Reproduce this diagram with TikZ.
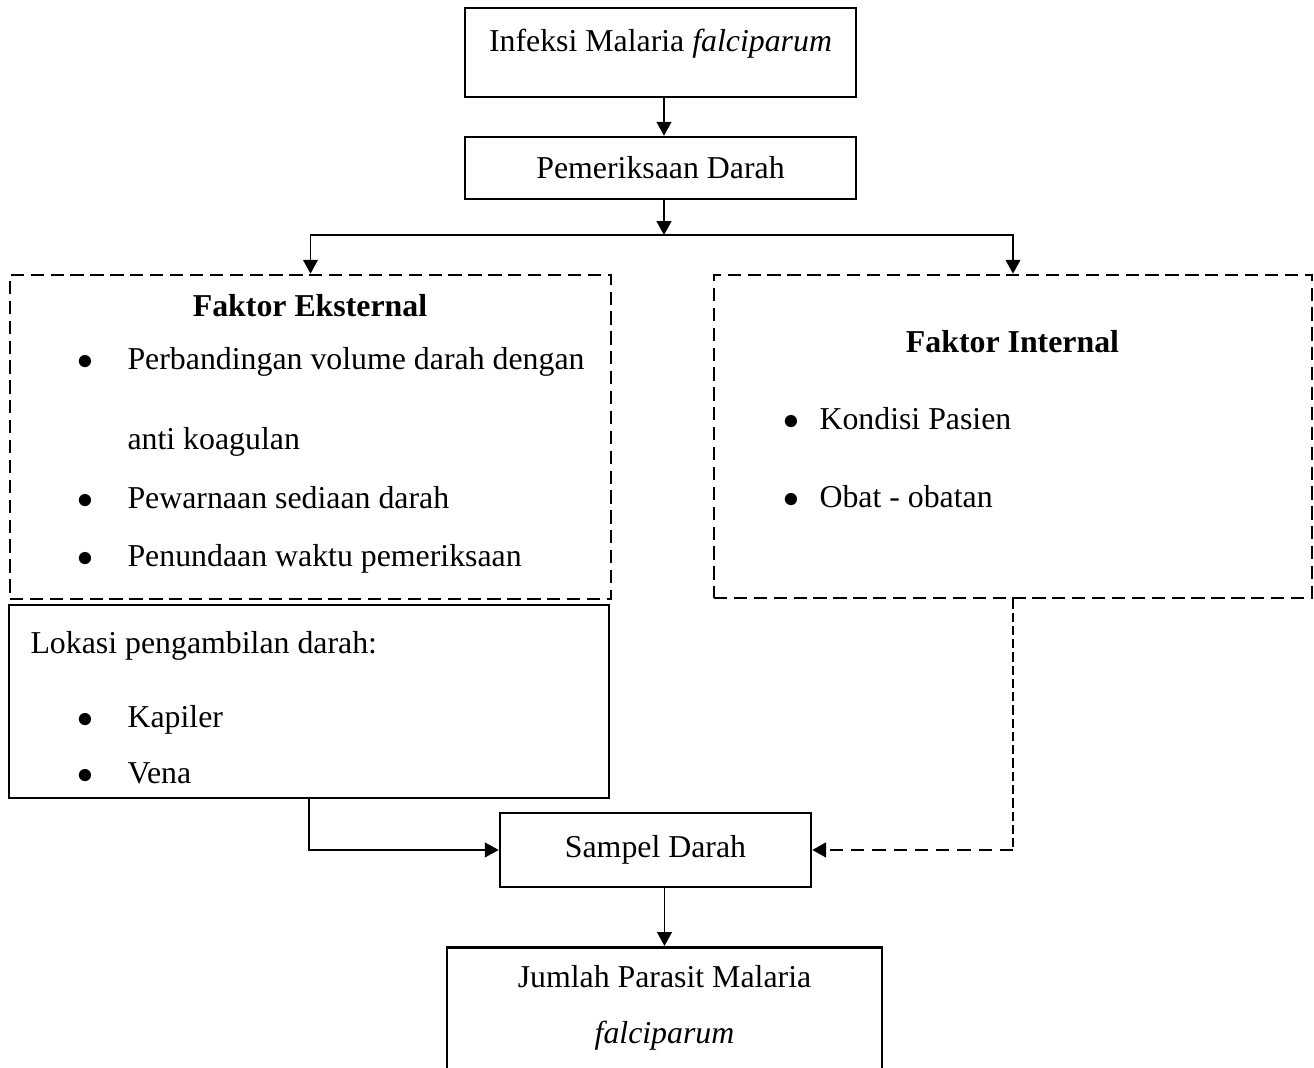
\documentclass[tikz,border=0pt]{standalone}
\usepackage{fontspec}
\setmainfont{Liberation Serif}
\usetikzlibrary{arrows.meta,positioning,fit}
\newcommand{\titik}[1]{\llap{$\bullet$\hspace{#1}}}
\tikzset{
  teks/.style={font=\fontsize{12pt}{21pt}\selectfont,inner sep=0pt},
  box/.style={teks,draw,line width=1pt,align=flush center},
  dbox/.style={draw,line width=1pt,dash pattern=on 5pt off 2.5pt,inner sep=0pt},
  arr/.style={-{Triangle[length=5.2pt,width=5.5pt]},line width=0.75pt},
  tipis/.style={line width=0.4pt,dash pattern=on 3.5pt off 1.5pt},
  darr/.style={arr,line width=1pt,dash pattern=on 5pt off 3pt},
  item/.style={teks,anchor=base west},
  judul/.style={teks,anchor=base,font=\fontsize{12pt}{21pt}\selectfont\bfseries},
}
\begin{document}
\begin{tikzpicture}[x=0.377pt,y=-0.377pt]
  \useasboundingbox (0,0) rectangle (1314,1068);
  % alur atas
  \node[box,minimum width=147.4pt,text height=16.6pt,text depth=17pt,anchor=base] (infeksi) at (660.5,52) {Infeksi Malaria \textit{falciparum}};
  \node[box,minimum width=147.4pt,text height=15.8pt,text depth=7.5pt,anchor=base] (periksa) at (660.5,179) {Pemeriksaan Darah};
  \coordinate (cabang) at (664,235);
  % faktor
  \node[dbox,fit={(10,275) (611,599)}] (eksternal) {};
  \node[judul] (judulEks) at (310,317) {Faktor Eksternal};
  \node[item] (eks1) at (127,370) {\titik{12.8pt}Perbandingan volume darah dengan};
  \node[item] (eks1b) at (127,450) {anti koagulan};
  \node[item] (eks2) at (127,509) {\titik{12.8pt}Pewarnaan sediaan darah};
  \node[item] (eks3) at (127,566) {\titik{12.8pt}Penundaan waktu pemeriksaan};
  \node[dbox,fit={(714,275) (1312,598)}] (internal) {};
  \node[judul] (judulInt) at (1012.5,352) {Faktor Internal};
  \node[item] (int1) at (819,430) {\titik{7.5pt}Kondisi Pasien};
  \node[item] (int2) at (819,508) {\titik{7.5pt}Obat - obatan};
  \node[draw,line width=1pt,inner sep=0pt,fit={(9,605) (609,798)}] (lokasi) {};
  \node[item] (judulLok) at (30,653) {Lokasi pengambilan darah:};
  \node[item] (lok1) at (127,727) {\titik{12.8pt}Kapiler};
  \node[item] (lok2) at (127,783) {\titik{12.8pt}Vena};
  % alur bawah
  \node[box,minimum width=117.2pt,text height=16.6pt,text depth=11.3pt,anchor=base] (sampel) at (655.5,857) {Sampel Darah};
  \node[box,text width=164pt,text height=15.1pt,text depth=45pt,anchor=north] (jumlah) at (664.5,946) {Jumlah Parasit Malaria\\\textit{falciparum}};
  \coordinate (belok) at (internal.south |- sampel.east);
  % panah
  \draw[arr] (infeksi.south -| cabang) -- (periksa.north -| cabang);
  \draw[arr] (periksa.south -| cabang) -- (cabang);
  \draw[arr] (cabang) -| (eksternal.north);
  \draw[arr] (cabang) -| (internal.north);
  \draw[arr] (lokasi.south) |- (sampel.west);
  \draw[tipis] (internal.south) -- (belok);
  \draw[darr] (belok) -- (sampel.east);
  \draw[arr] (sampel.south -| jumlah.north) -- (jumlah.north);
\end{tikzpicture}
\end{document}
